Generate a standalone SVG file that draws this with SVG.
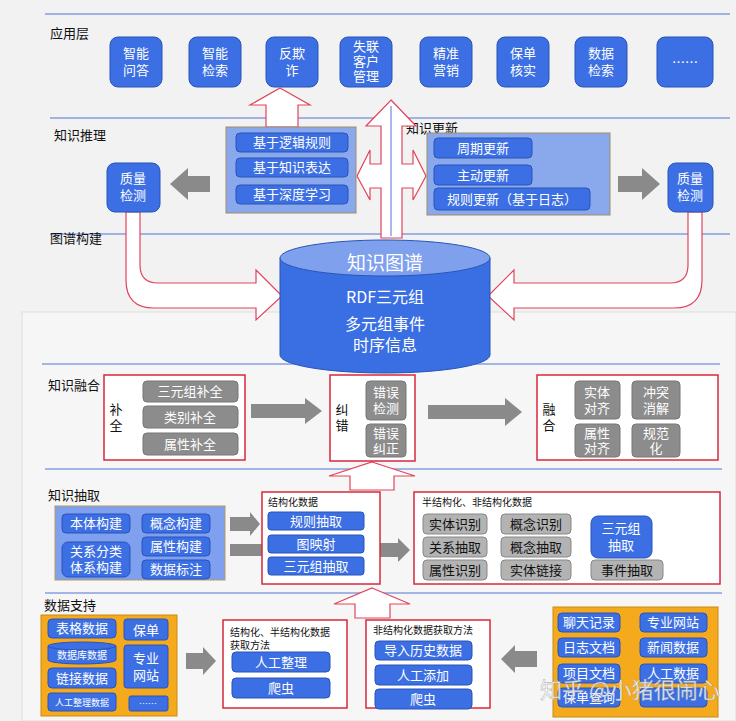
<svg xmlns="http://www.w3.org/2000/svg" width="736" height="721" viewBox="0 0 736 721">
<defs>
<style>
text{font-family:"Noto Sans CJK SC","Liberation Sans",sans-serif;}
.b{fill:#3b6fe3;stroke:#2a55b8;stroke-width:1}
.g{fill:#8c8c8c;stroke:#777;stroke-width:1}
.gl{fill:#b3b3b3;stroke:#888;stroke-width:1}
.w{fill:#fff;font-size:13px;text-anchor:middle}
.k{fill:#111;font-size:13px;text-anchor:middle}
.lab{fill:#111;font-size:13px}
.red{fill:#fff;stroke:#d8283c;stroke-width:1.5}
.ha{fill:#fff;stroke:#e0445a;stroke-width:1.2}
.ln{stroke:#5572d8;stroke-width:1.2}
.ga{fill:#8a8a8a}
.or{fill:#f5a91c;stroke:#c98a10}
</style>
</defs>
<rect width="736" height="721" fill="#f2f2f2"/>
<rect x="22" y="312" width="714" height="409" fill="#f6f6f6" stroke="#ddd"/>
<g id="lines">
<line class="ln" x1="45" y1="14" x2="730" y2="14"/>
<line class="ln" x1="50" y1="118" x2="730" y2="118"/>
<line class="ln" x1="50" y1="234" x2="730" y2="234"/>
<line class="ln" x1="42" y1="364" x2="720" y2="364"/>
<line class="ln" x1="45" y1="469" x2="722" y2="469"/>
<line class="ln" x1="45" y1="593" x2="722" y2="593"/>
</g>
<g id="labels">
<text class="lab" x="50" y="38">应用层</text>
<text class="lab" x="54" y="140">知识推理</text>
<text class="lab" x="50" y="243">图谱构建</text>
<text class="lab" x="406" y="133">知识更新</text>
<text class="lab" x="48" y="390">知识融合</text>
<text class="lab" x="48" y="500">知识抽取</text>
<text class="lab" x="44" y="610">数据支持</text>
</g>
<g id="app">
<rect class="b" x="110" y="37" width="52" height="50" rx="8"/><text class="w" x="136" y="58">智能</text><text class="w" x="136" y="75">问答</text>
<rect class="b" x="189" y="37" width="52" height="50" rx="8"/><text class="w" x="215" y="58">智能</text><text class="w" x="215" y="75">检索</text>
<rect class="b" x="266" y="37" width="52" height="50" rx="8"/><text class="w" x="292" y="58">反欺</text><text class="w" x="292" y="75">诈</text>
<rect class="b" x="340" y="37" width="52" height="50" rx="8"/><text class="w" x="366" y="51">失联</text><text class="w" x="366" y="66">客户</text><text class="w" x="366" y="81">管理</text>
<rect class="b" x="420" y="37" width="52" height="50" rx="8"/><text class="w" x="446" y="58">精准</text><text class="w" x="446" y="75">营销</text>
<rect class="b" x="497" y="37" width="52" height="50" rx="8"/><text class="w" x="523" y="58">保单</text><text class="w" x="523" y="75">核实</text>
<rect class="b" x="575" y="37" width="52" height="50" rx="8"/><text class="w" x="601" y="58">数据</text><text class="w" x="601" y="75">检索</text>
<rect class="b" x="657" y="37" width="56" height="50" rx="8"/><text class="w" x="685" y="67">……</text>
</g>
<g id="connectors">
<path class="ha" d="M280,88 L310,105 L298,105 L298,127 L266,127 L266,105 L250,105 Z"/>
<path class="ha" d="M391,100 L416,126 L402,126 L402,164 L413,164 L413,150 L426,176 L413,200 L413,188 L402,188 L402,238 L381,238 L381,188 L370,188 L370,200 L357,176 L370,150 L370,164 L381,164 L381,126 L366,126 Z"/>
<line x1="391" y1="106" x2="391" y2="236" stroke="#5572d8"/>
<path class="ga" d="M210,176 L188,176 L188,168 L170,184 L188,200 L188,192 L210,192 Z"/>
<path class="ga" d="M618,176 L642,176 L642,168 L660,184 L642,200 L642,192 L618,192 Z"/>
<path class="ha" d="M126,212 L140,212 L140,265 Q140,283 158,283 L256,283 L256,270 L282,296 L256,320 L256,308 L154,308 Q126,308 126,280 Z"/>
<path class="ha" d="M688,212 L702,212 L702,280 Q702,308 674,308 L514,308 L514,320 L488,296 L514,270 L514,283 L670,283 Q688,283 688,265 Z"/>
<path class="ga" d="M251,404 L305,404 L305,398 L322,411 L305,424 L305,418 L251,418 Z"/>
<path class="ga" d="M428,405 L505,405 L505,398 L522,412 L505,426 L505,419 L428,419 Z"/>
<path class="ha" d="M372,462 L415,476 L394,476 L394,490 L350,490 L350,476 L329,476 Z"/>
<path class="ga" d="M230,517 L250,517 L250,512 L260,524 L250,536 L250,531 L230,531 Z"/>
<path class="ga" d="M230,544 L262,544 L262,556 L230,556 Z"/>
<path class="ga" d="M380,543 L398,543 L398,538 L410,550 L398,562 L398,557 L380,557 Z"/>
<path class="ha" d="M372,588 L410,604 L390,604 L390,618 L355,618 L355,604 L334,604 Z"/>
<path class="ga" d="M186,653 L203,653 L203,647 L216,661 L203,675 L203,669 L186,669 Z"/>
<path class="ga" d="M537,651 L515,651 L515,645 L501,659 L515,673 L515,667 L537,667 Z"/>
</g>
<g id="reasoning">
<rect x="226" y="127" width="130" height="86" fill="#8aa8ec" stroke="#a08c6a"/>
<rect class="b" x="236" y="133" width="112" height="19" rx="4"/><text class="w" x="292" y="147">基于逻辑规则</text>
<rect class="b" x="236" y="158" width="112" height="19" rx="4"/><text class="w" x="292" y="172">基于知识表达</text>
<rect class="b" x="236" y="185" width="112" height="19" rx="4"/><text class="w" x="292" y="199">基于深度学习</text>
</g>
<g id="update">
<rect x="427" y="133" width="183" height="82" fill="#8aa8ec" stroke="#a08c6a"/>
<rect class="b" x="434" y="138" width="98" height="20" rx="4"/><text class="w" x="483" y="153">周期更新</text>
<rect class="b" x="434" y="165" width="98" height="20" rx="4"/><text class="w" x="483" y="180">主动更新</text>
<rect class="b" x="434" y="188" width="156" height="22" rx="4"/><text class="w" x="512" y="204">规则更新（基于日志）</text>
</g>
<g id="qc">
<rect class="b" x="107" y="163" width="53" height="49" rx="8"/><text class="w" x="133" y="183">质量</text><text class="w" x="133" y="200">检测</text>
<rect class="b" x="668" y="163" width="45" height="49" rx="8"/><text class="w" x="690" y="183">质量</text><text class="w" x="690" y="200">检测</text>
</g>
<g id="kg">
<path d="M280,258 L280,355 A105,18 0 0 0 490,355 L490,258 Z" fill="#3a6fe3" stroke="#2a55b8"/>
<ellipse cx="385" cy="258" rx="105" ry="18" fill="#7fa0ec" stroke="#2a55b8"/>
<text x="385" y="270" fill="#fff" font-size="19" text-anchor="middle">知识图谱</text>
<text x="385" y="303" fill="#fff" font-size="16" text-anchor="middle">RDF三元组</text>
<text x="385" y="330" fill="#fff" font-size="16" text-anchor="middle">多元组事件</text>
<text x="385" y="351" fill="#fff" font-size="16" text-anchor="middle">时序信息</text>
</g>
<g id="fusion">
<rect class="red" x="104" y="375" width="141" height="85"/>
<text class="k" x="116" y="414">补</text><text class="k" x="116" y="430">全</text>
<rect class="g" x="143" y="381" width="95" height="21" rx="4"/><text class="w" x="190" y="396">三元组补全</text>
<rect class="g" x="143" y="406" width="95" height="22" rx="4"/><text class="w" x="190" y="422">类别补全</text>
<rect class="g" x="143" y="433" width="95" height="22" rx="4"/><text class="w" x="190" y="449">属性补全</text>
<rect class="red" x="330" y="375" width="85" height="86"/>
<text class="k" x="342" y="414">纠</text><text class="k" x="342" y="430">错</text>
<rect class="g" x="366" y="381" width="40" height="39" rx="4"/><text class="w" x="386" y="397">错误</text><text class="w" x="386" y="413">检测</text>
<rect class="g" x="366" y="424" width="40" height="33" rx="4"/><text class="w" x="386" y="438">错误</text><text class="w" x="386" y="453">纠正</text>
<rect class="red" x="537" y="375" width="181" height="85"/>
<text class="k" x="549" y="414">融</text><text class="k" x="549" y="430">合</text>
<rect class="g" x="575" y="381" width="45" height="38" rx="4"/><text class="w" x="597" y="397">实体</text><text class="w" x="597" y="413">对齐</text>
<rect class="g" x="632" y="381" width="48" height="38" rx="4"/><text class="w" x="656" y="397">冲突</text><text class="w" x="656" y="413">消解</text>
<rect class="g" x="575" y="424" width="45" height="33" rx="4"/><text class="w" x="597" y="438">属性</text><text class="w" x="597" y="453">对齐</text>
<rect class="g" x="632" y="424" width="48" height="33" rx="4"/><text class="w" x="656" y="438">规范</text><text class="w" x="656" y="453">化</text>
</g>
<g id="extract">
<rect x="55" y="506" width="170" height="74" fill="#7ea0ee" stroke="#b89a60"/>
<rect class="b" x="62" y="514" width="68" height="19" rx="4"/><text class="w" x="96" y="528">本体构建</text>
<rect class="b" x="142" y="514" width="68" height="19" rx="4"/><text class="w" x="176" y="528">概念构建</text>
<rect class="b" x="62" y="542" width="68" height="35" rx="6"/><text class="w" x="96" y="556">关系分类</text><text class="w" x="96" y="572">体系构建</text>
<rect class="b" x="142" y="537" width="68" height="19" rx="4"/><text class="w" x="176" y="551">属性构建</text>
<rect class="b" x="142" y="560" width="68" height="19" rx="4"/><text class="w" x="176" y="574">数据标注</text>
<rect class="red" x="262" y="492" width="118" height="92"/>
<text x="268" y="506" style="font-size:10px" fill="#111">结构化数据</text>
<rect class="b" x="268" y="512" width="96" height="18" rx="3"/><text class="w" x="316" y="526">规则抽取</text>
<rect class="b" x="268" y="535" width="96" height="18" rx="3"/><text class="w" x="316" y="549">图映射</text>
<rect class="b" x="268" y="557" width="96" height="18" rx="3"/><text class="w" x="316" y="571">三元组抽取</text>
<rect class="red" x="414" y="492" width="306" height="92"/>
<text x="422" y="506" style="font-size:10px" fill="#111">半结构化、非结构化数据</text>
<rect class="gl" x="423" y="514" width="64" height="20" rx="4"/><text class="k" x="455" y="529">实体识别</text>
<rect class="gl" x="501" y="514" width="70" height="20" rx="4"/><text class="k" x="536" y="529">概念识别</text>
<rect class="gl" x="423" y="537" width="64" height="20" rx="4"/><text class="k" x="455" y="552">关系抽取</text>
<rect class="gl" x="501" y="537" width="70" height="20" rx="4"/><text class="k" x="536" y="552">概念抽取</text>
<rect class="gl" x="423" y="560" width="64" height="20" rx="4"/><text class="k" x="455" y="575">属性识别</text>
<rect class="gl" x="501" y="560" width="70" height="20" rx="4"/><text class="k" x="536" y="575">实体链接</text>
<rect class="b" x="591" y="516" width="61" height="42" rx="7"/><text class="w" x="621" y="533">三元组</text><text class="w" x="621" y="550">抽取</text>
<rect class="gl" x="591" y="560" width="72" height="20" rx="4"/><text class="k" x="627" y="575">事件抽取</text>
</g>
<g id="support">
<rect class="or" x="41" y="615" width="136" height="101"/>
<rect class="b" x="48" y="619" width="68" height="19" rx="4"/><text class="w" x="82" y="633">表格数据</text>
<rect class="b" x="124" y="619" width="44" height="21" rx="3"/><text class="w" x="146" y="635">保单</text>
<path d="M48,646 L48,660 A34,4 0 0 0 116,660 L116,646 Z" class="b"/><ellipse cx="82" cy="646" rx="34" ry="4" class="b"/><text class="w" x="82" y="659" style="font-size:10px">数据库数据</text>
<rect class="b" x="124" y="645" width="44" height="43" rx="3"/><text class="w" x="146" y="663">专业</text><text class="w" x="146" y="680">网站</text>
<rect class="b" x="48" y="668" width="68" height="20" rx="4"/><text class="w" x="82" y="683">链接数据</text>
<rect class="b" x="48" y="693" width="68" height="18" rx="3"/><text class="w" x="82" y="706" style="font-size:9px">人工整理数据</text>
<rect class="b" x="129" y="696" width="39" height="15" rx="2"/><text class="w" x="148" y="707" style="font-size:9px">……</text>
<rect class="red" x="223" y="620" width="124" height="88"/>
<text x="230" y="636" style="font-size:10px" fill="#111">结构化、半结构化数据</text>
<text x="230" y="649" style="font-size:10px" fill="#111">获取方法</text>
<rect class="b" x="232" y="652" width="98" height="20" rx="4"/><text class="w" x="281" y="667">人工整理</text>
<rect class="b" x="232" y="678" width="98" height="20" rx="4"/><text class="w" x="281" y="693">爬虫</text>
<rect class="red" x="366" y="620" width="124" height="88"/>
<text x="373" y="634" style="font-size:10px" fill="#111">非结构化数据获取方法</text>
<rect class="b" x="375" y="641" width="97" height="19" rx="4"/><text class="w" x="423" y="655">导入历史数据</text>
<rect class="b" x="375" y="665" width="97" height="20" rx="4"/><text class="w" x="423" y="680">人工添加</text>
<rect class="b" x="375" y="689" width="97" height="20" rx="4"/><text class="w" x="423" y="704">爬虫</text>
<rect class="or" x="553" y="607" width="165" height="110"/>
<rect class="b" x="558" y="613" width="62" height="19" rx="4"/><text class="w" x="589" y="627">聊天记录</text>
<rect class="b" x="640" y="613" width="67" height="19" rx="4"/><text class="w" x="673" y="627">专业网站</text>
<rect class="b" x="558" y="638" width="62" height="19" rx="4"/><text class="w" x="589" y="652">日志文档</text>
<rect class="b" x="640" y="638" width="67" height="19" rx="4"/><text class="w" x="673" y="652">新闻数据</text>
<rect class="b" x="558" y="664" width="62" height="19" rx="4"/><text class="w" x="589" y="678">项目文档</text>
<rect class="b" x="640" y="664" width="67" height="19" rx="4"/><text class="w" x="673" y="678">人工数据</text>
<rect class="b" x="558" y="688" width="62" height="19" rx="4"/><text class="w" x="589" y="702">保单查询</text>
<rect class="b" x="640" y="688" width="67" height="19" rx="4"/>
</g>
<text x="540" y="698" font-size="22" fill="#fff" fill-opacity="0.85" stroke="#999" stroke-width="0.4">知乎 @小猪很闹心</text>
</svg>
